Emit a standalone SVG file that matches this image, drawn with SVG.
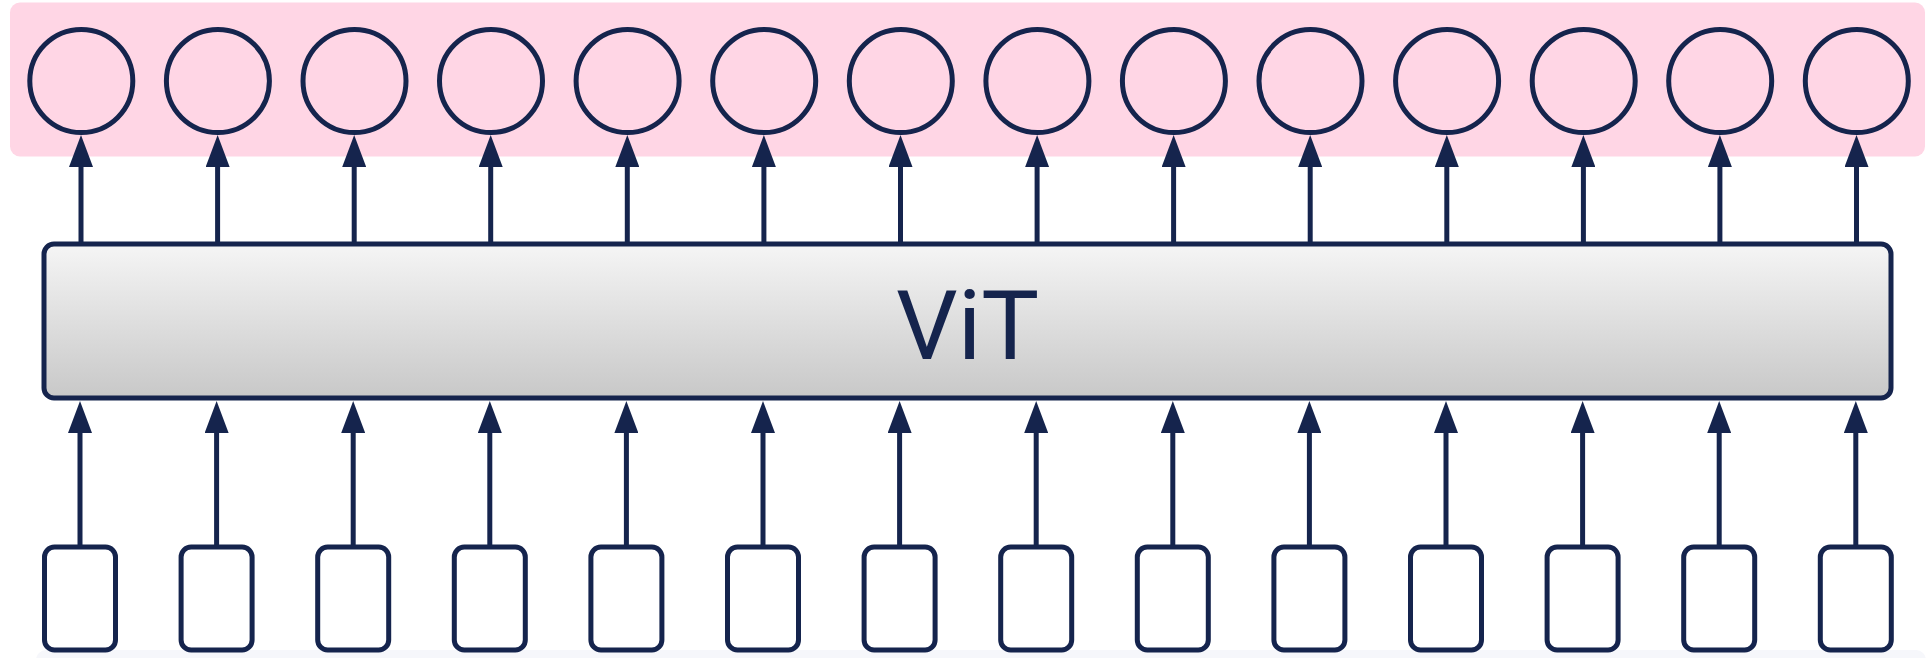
<svg xmlns="http://www.w3.org/2000/svg" width="1926" height="658" viewBox="0 0 1926 658" shape-rendering="geometricPrecision">
  <defs>
    <linearGradient id="vitGrad" x1="0" y1="0" x2="0" y2="1">
      <stop offset="0" stop-color="#f5f5f5"/>
      <stop offset="1" stop-color="#c8c8c8"/>
    </linearGradient>
    <marker id="arrow" markerUnits="userSpaceOnUse" markerWidth="32" markerHeight="24" refX="20" refY="12" orient="auto" viewBox="0 0 32 24">
      <path d="M0,0 L32,12 L0,24 Z" fill="#15244d"/>
    </marker>
    <style>
      .tok { fill: #ffd6e5; stroke: #15244d; stroke-width: 5; }
      .patch { fill: #ffffff; stroke: #15244d; stroke-width: 5; }
      .conn { stroke: #15244d; stroke-width: 5; fill: none; marker-end: url(#arrow); }
      .label { font-family: Roboto, "Liberation Sans", sans-serif; font-size: 97px; fill: #15244d; }
    </style>
  </defs>
  <rect x="0" y="0" width="1926" height="658" fill="#ffffff"/>
  <rect x="36" y="650" width="1890" height="20" rx="10" fill="#f6f7fb"/>
  <rect id="output-band" x="10" y="2.5" width="1915" height="154" rx="10" fill="#ffd6e5"/>

  <g id="connectors">
    <line class="conn" x1="81" y1="243" x2="81" y2="147"/>
    <line class="conn" x1="217.6" y1="243" x2="217.6" y2="147"/>
    <line class="conn" x1="354.2" y1="243" x2="354.2" y2="147"/>
    <line class="conn" x1="490.7" y1="243" x2="490.7" y2="147"/>
    <line class="conn" x1="627.3" y1="243" x2="627.3" y2="147"/>
    <line class="conn" x1="763.9" y1="243" x2="763.9" y2="147"/>
    <line class="conn" x1="900.5" y1="243" x2="900.5" y2="147"/>
    <line class="conn" x1="1037.1" y1="243" x2="1037.1" y2="147"/>
    <line class="conn" x1="1173.6" y1="243" x2="1173.6" y2="147"/>
    <line class="conn" x1="1310.2" y1="243" x2="1310.2" y2="147"/>
    <line class="conn" x1="1446.8" y1="243" x2="1446.8" y2="147"/>
    <line class="conn" x1="1583.4" y1="243" x2="1583.4" y2="147"/>
    <line class="conn" x1="1719.9" y1="243" x2="1719.9" y2="147"/>
    <line class="conn" x1="1856.5" y1="243" x2="1856.5" y2="147"/>

    <line class="conn" x1="80" y1="546" x2="80" y2="413"/>
    <line class="conn" x1="216.6" y1="546" x2="216.6" y2="413"/>
    <line class="conn" x1="353.2" y1="546" x2="353.2" y2="413"/>
    <line class="conn" x1="489.8" y1="546" x2="489.8" y2="413"/>
    <line class="conn" x1="626.4" y1="546" x2="626.4" y2="413"/>
    <line class="conn" x1="763" y1="546" x2="763" y2="413"/>
    <line class="conn" x1="899.6" y1="546" x2="899.6" y2="413"/>
    <line class="conn" x1="1036.2" y1="546" x2="1036.2" y2="413"/>
    <line class="conn" x1="1172.8" y1="546" x2="1172.8" y2="413"/>
    <line class="conn" x1="1309.4" y1="546" x2="1309.4" y2="413"/>
    <line class="conn" x1="1446" y1="546" x2="1446" y2="413"/>
    <line class="conn" x1="1582.6" y1="546" x2="1582.6" y2="413"/>
    <line class="conn" x1="1719.2" y1="546" x2="1719.2" y2="413"/>
    <line class="conn" x1="1855.8" y1="546" x2="1855.8" y2="413"/>
  </g>

  <g id="vit">
    <rect x="44" y="244" width="1847" height="154" rx="10" fill="url(#vitGrad)" stroke="#15244d" stroke-width="5"/>
    <text class="label" x="967.5" y="359" text-anchor="middle">ViT</text>
  </g>

  <g id="out-1"><circle class="tok" cx="81.3" cy="81" r="51.5"/></g>
  <g id="out-2"><circle class="tok" cx="217.9" cy="81" r="51.5"/></g>
  <g id="out-3"><circle class="tok" cx="354.5" cy="81" r="51.5"/></g>
  <g id="out-4"><circle class="tok" cx="491" cy="81" r="51.5"/></g>
  <g id="out-5"><circle class="tok" cx="627.6" cy="81" r="51.5"/></g>
  <g id="out-6"><circle class="tok" cx="764.2" cy="81" r="51.5"/></g>
  <g id="out-7"><circle class="tok" cx="900.8" cy="81" r="51.5"/></g>
  <g id="out-8"><circle class="tok" cx="1037.4" cy="81" r="51.5"/></g>
  <g id="out-9"><circle class="tok" cx="1173.9" cy="81" r="51.5"/></g>
  <g id="out-10"><circle class="tok" cx="1310.5" cy="81" r="51.5"/></g>
  <g id="out-11"><circle class="tok" cx="1447.1" cy="81" r="51.5"/></g>
  <g id="out-12"><circle class="tok" cx="1583.7" cy="81" r="51.5"/></g>
  <g id="out-13"><circle class="tok" cx="1720.2" cy="81" r="51.5"/></g>
  <g id="out-14"><circle class="tok" cx="1856.8" cy="81" r="51.5"/></g>

  <g id="patch-1"><rect class="patch" x="44.5" y="547" width="71" height="103" rx="10"/></g>
  <g id="patch-2"><rect class="patch" x="181.1" y="547" width="71" height="103" rx="10"/></g>
  <g id="patch-3"><rect class="patch" x="317.7" y="547" width="71" height="103" rx="10"/></g>
  <g id="patch-4"><rect class="patch" x="454.3" y="547" width="71" height="103" rx="10"/></g>
  <g id="patch-5"><rect class="patch" x="590.9" y="547" width="71" height="103" rx="10"/></g>
  <g id="patch-6"><rect class="patch" x="727.5" y="547" width="71" height="103" rx="10"/></g>
  <g id="patch-7"><rect class="patch" x="864.1" y="547" width="71" height="103" rx="10"/></g>
  <g id="patch-8"><rect class="patch" x="1000.7" y="547" width="71" height="103" rx="10"/></g>
  <g id="patch-9"><rect class="patch" x="1137.3" y="547" width="71" height="103" rx="10"/></g>
  <g id="patch-10"><rect class="patch" x="1273.9" y="547" width="71" height="103" rx="10"/></g>
  <g id="patch-11"><rect class="patch" x="1410.5" y="547" width="71" height="103" rx="10"/></g>
  <g id="patch-12"><rect class="patch" x="1547.1" y="547" width="71" height="103" rx="10"/></g>
  <g id="patch-13"><rect class="patch" x="1683.7" y="547" width="71" height="103" rx="10"/></g>
  <g id="patch-14"><rect class="patch" x="1820.3" y="547" width="71" height="103" rx="10"/></g>
</svg>
